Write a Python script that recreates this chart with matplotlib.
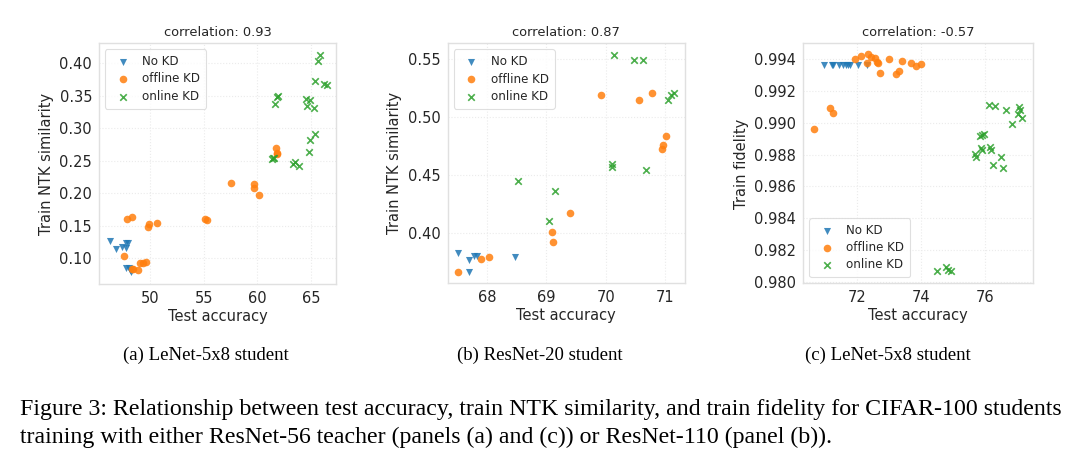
import matplotlib
matplotlib.use("Agg")
import matplotlib.pyplot as plt

# panel (a): LeNet-5x8 student, test acc vs train NTK similarity
a_nokd_x = [46.27, 46.83, 47.42, 47.73, 47.73, 47.92, 47.76, 48.04, 48.23, 48.14]
a_nokd_y = [0.126, 0.114, 0.117, 0.116, 0.123, 0.123, 0.084, 0.084, 0.078, 0.082]
a_off_x = [47.83, 48.29, 49.78, 49.94, 50.65, 47.55, 49.07, 49.38, 49.66, 48.45, 48.85, 48.29,
           55.12, 55.28, 57.52, 59.72, 59.72, 60.19, 61.74, 61.80, 61.86]
a_off_y = [0.161, 0.164, 0.148, 0.152, 0.154, 0.103, 0.093, 0.093, 0.094, 0.0825, 0.0815, 0.083,
           0.160, 0.159, 0.216, 0.2135, 0.208, 0.1976, 0.270, 0.262, 0.261]
a_on_x = [61.43, 61.34, 61.55, 63.30, 63.50, 63.88, 64.85, 64.90, 65.37, 64.53, 64.90, 64.60,
          65.28, 65.37, 66.20, 66.46, 65.68, 65.84, 61.65, 61.86, 61.96]
a_on_y = [0.2536, 0.252, 0.2545, 0.2443, 0.248, 0.242, 0.264, 0.282, 0.291, 0.345, 0.3435, 0.334,
          0.332, 0.373, 0.369, 0.3666, 0.404, 0.413, 0.338, 0.3486, 0.350]

# panel (b): ResNet-20 student
b_nokd_x = [67.52, 67.70, 67.70, 67.79, 67.83, 68.48]
b_nokd_y = [0.383, 0.377, 0.3667, 0.3807, 0.3807, 0.3796]
b_off_x = [67.51, 67.90, 68.03, 69.09, 69.11, 69.39, 69.92, 70.56, 70.77, 71.01, 70.96, 70.94]
b_off_y = [0.3667, 0.378, 0.380, 0.4016, 0.393, 0.4173, 0.5196, 0.5153, 0.521, 0.4838, 0.476, 0.473]
b_on_x = [68.53, 69.15, 69.04, 70.11, 70.11, 70.67, 70.13, 70.47, 70.62, 71.05, 71.10, 71.14]
b_on_y = [0.445, 0.4365, 0.411, 0.4597, 0.4569, 0.4545, 0.554, 0.549, 0.549, 0.5147, 0.519, 0.5213]

# panel (c): LeNet-5x8 student, test acc vs train fidelity
c_nokd_x = [70.96, 71.20, 71.25, 71.43, 71.56, 71.64, 71.71, 71.77, 72.02, 72.29]
c_nokd_y = [0.99364] * 10
c_off_x = [70.65, 71.14, 71.24, 71.92, 72.11, 72.32, 72.29, 72.44, 72.55, 72.60, 72.65, 72.72,
           72.99, 73.20, 73.30, 73.38, 73.67, 73.82, 74.00]
c_off_y = [0.98964, 0.99094, 0.99062, 0.99402, 0.9942, 0.99431, 0.99375, 0.99412, 0.9941, 0.99385,
           0.99375, 0.99316, 0.994, 0.99308, 0.99329, 0.99389, 0.99375, 0.99358, 0.99371]
c_on_x = [76.12, 76.30, 76.66, 77.06, 77.08, 77.03, 77.16, 76.82, 75.88, 75.95, 75.83, 75.85,
          75.91, 76.16, 76.17, 75.67, 75.72, 76.48, 76.24, 76.54, 74.49, 74.77, 74.84, 74.92]
c_on_y = [0.99114, 0.99104, 0.99079, 0.991, 0.99079, 0.99056, 0.99031, 0.98994, 0.98921, 0.98927,
          0.98916, 0.98844, 0.98829, 0.9885, 0.98827, 0.98802, 0.98785, 0.98785, 0.98733, 0.98716,
          0.98067, 0.98096, 0.98075, 0.98067]

titles = ["correlation: 0.93", "correlation: 0.87", "correlation: -0.57"]
ylabels = ["Train NTK similarity", "Train NTK similarity", "Train fidelity"]
subcaps = ["(a) LeNet-5x8 student", "(b) ResNet-20 student", "(c) LeNet-5x8 student"]

plt.rcParams['font.family'] = ['DejaVu Sans']
plt.rcParams['text.color'] = '#262626'
plt.rcParams['axes.labelcolor'] = '#262626'
plt.rcParams['xtick.color'] = '#262626'
plt.rcParams['ytick.color'] = '#262626'

fig = plt.figure(figsize=(10.8, 4.7), dpi=100)
boxes = [[0.0917, 0.395, 0.2192, 0.5128],
         [0.4144, 0.397, 0.2199, 0.5106],
         [0.7438, 0.397, 0.2130, 0.5106]]
data = [(a_nokd_x, a_nokd_y, a_off_x, a_off_y, a_on_x, a_on_y),
        (b_nokd_x, b_nokd_y, b_off_x, b_off_y, b_on_x, b_on_y),
        (c_nokd_x, c_nokd_y, c_off_x, c_off_y, c_on_x, c_on_y)]
xlims = [(45.25, 67.3), (67.34, 71.33), (70.31, 77.5)]
ylims = [(0.0595, 0.431), (0.357, 0.5637), (0.9799, 0.995)]
xticks = [[50, 55, 60, 65], [68, 69, 70, 71], [72, 74, 76]]
yticks = [[0.10, 0.15, 0.20, 0.25, 0.30, 0.35, 0.40],
          [0.40, 0.45, 0.50, 0.55],
          [0.980, 0.982, 0.984, 0.986, 0.988, 0.990, 0.992, 0.994]]
yfmt = ['%.2f', '%.2f', '%.3f']
legloc = ['upper left', 'upper left', 'lower left']

for i in range(3):
    ax = fig.add_axes(boxes[i])
    nx, ny, ox, oy, gx, gy = data[i]
    ax.scatter(nx, ny, marker='v', s=26, color='#1f77b4', alpha=0.85, linewidths=0, label='No KD', zorder=3)
    ax.scatter(ox, oy, marker='o', s=30, color='#ff7f0e', alpha=0.85, linewidths=0, label='offline KD', zorder=3)
    ax.scatter(gx, gy, marker='x', s=22, color='#2ca02c', alpha=0.85, linewidths=1.2, label='online KD', zorder=3)
    ax.set_xlim(xlims[i])
    ax.set_ylim(ylims[i])
    ax.set_xticks(xticks[i])
    ax.set_yticks(yticks[i])
    ax.set_yticklabels([yfmt[i] % v for v in yticks[i]])
    ax.tick_params(length=0, labelsize=10.5, pad=5)
    ax.grid(True, color='#ebebeb', linewidth=0.8, linestyle=':')
    ax.set_axisbelow(True)
    for sp in ax.spines.values():
        sp.set_color('#e0e0e0')
        sp.set_linewidth(1.0)
    ax.set_title(titles[i], fontsize=9.4, pad=5)
    ax.set_xlabel('Test accuracy', fontsize=10.5, labelpad=2)
    ax.set_ylabel(ylabels[i], fontsize=10.5, labelpad=4)
    leg = ax.legend(loc=legloc[i], fontsize=8.6, scatterpoints=1, frameon=True,
                    borderpad=0.5, handletextpad=0.6, labelspacing=0.35)
    leg.get_frame().set_edgecolor('#d8d8d8')
    leg.get_frame().set_linewidth(0.8)

centers = [206, 540, 888]
for c, t in zip(centers, subcaps):
    fig.text(c / 1080, 1 - 355 / 470, t, ha='center', va='center',
             family='Liberation Serif', fontsize=13.5, color='black')

fig.text(20 / 1080, 1 - 410 / 470,
         'Figure 3: Relationship between test accuracy, train NTK similarity, and train fidelity for CIFAR-100 students',
         ha='left', va='center', family='Liberation Serif', fontsize=17.2, color='black')
fig.text(20 / 1080, 1 - 437 / 470,
         'training with either ResNet-56 teacher (panels (a) and (c)) or ResNet-110 (panel (b)).',
         ha='left', va='center', family='Liberation Serif', fontsize=17.2, color='black')

fig.savefig('out.png', dpi=100)
